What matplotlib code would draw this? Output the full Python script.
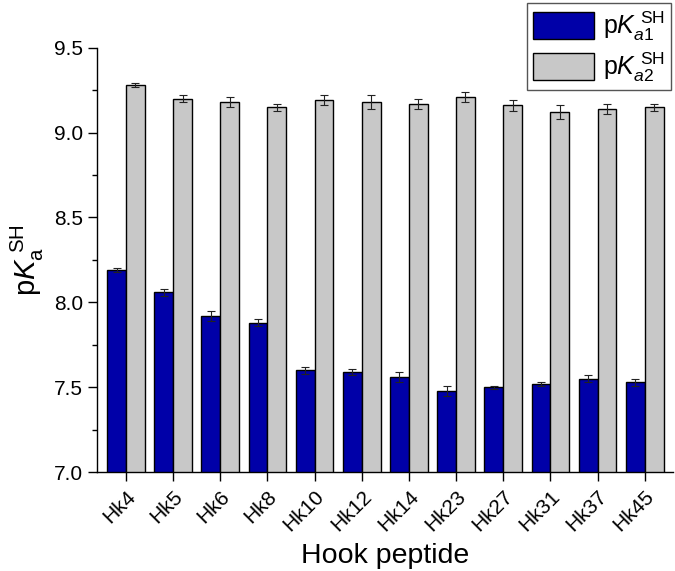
import matplotlib as mpl; mpl.use("Agg")
import matplotlib.pyplot as plt
import numpy as np
from matplotlib.ticker import MultipleLocator

mpl.rcParams.update({"font.family": "Liberation Sans", "mathtext.fontset": "custom",
                     "mathtext.rm": "Liberation Sans", "mathtext.it": "Liberation Sans:italic",
                     "mathtext.bf": "Liberation Sans:bold"})

peptides = ["Hk4", "Hk5", "Hk6", "Hk8", "Hk10", "Hk12", "Hk14", "Hk23", "Hk27", "Hk31", "Hk37", "Hk45"]
pka1 = [8.19, 8.06, 7.92, 7.88, 7.60, 7.59, 7.56, 7.48, 7.50, 7.52, 7.55, 7.53]
pka1_err = [0.01, 0.02, 0.03, 0.02, 0.02, 0.02, 0.03, 0.03, 0.01, 0.01, 0.02, 0.02]
pka2 = [9.28, 9.20, 9.18, 9.15, 9.19, 9.18, 9.17, 9.21, 9.16, 9.12, 9.14, 9.15]
pka2_err = [0.01, 0.02, 0.03, 0.02, 0.03, 0.04, 0.03, 0.03, 0.03, 0.04, 0.03, 0.02]

fig = plt.figure(figsize=(6.75, 5.71), dpi=100)
ax = fig.add_axes([0.144, 0.173, 0.853, 0.7435])

x = np.arange(len(peptides))
w = 0.4
ekw = dict(ecolor="#222222", elinewidth=0.8, capsize=3, capthick=0.8)
ax.bar(x - w / 2, pka1, w, color="#0000A8", edgecolor="black", linewidth=1.0,
       yerr=pka1_err, error_kw=ekw, label=r"p$\mathit{K}_{\mathit{a1}}^{\ \mathrm{SH}}$")
ax.bar(x + w / 2, pka2, w, color="#C8C8C8", edgecolor="black", linewidth=1.0,
       yerr=pka2_err, error_kw=ekw, label=r"p$\mathit{K}_{\mathit{a2}}^{\ \mathrm{SH}}$")

ax.set_xlim(-0.61, 11.6)
ax.set_ylim(7.0, 9.5)
ax.yaxis.set_major_locator(MultipleLocator(0.5))
ax.yaxis.set_minor_locator(MultipleLocator(0.25))
ax.yaxis.set_major_formatter(mpl.ticker.FormatStrFormatter("%.1f"))
ax.set_xticks(x)
ax.set_xticklabels(peptides, rotation=45, ha="right", rotation_mode="anchor")
for s in ("top", "right"):
    ax.spines[s].set_visible(False)
for s in ("left", "bottom"):
    ax.spines[s].set_linewidth(1.0)
ax.tick_params(axis="both", which="major", direction="out", length=6.5, width=1.0, labelsize=15)
ax.tick_params(axis="y", which="minor", direction="out", length=3.5, width=1.0)
ax.tick_params(axis="x", pad=4)

ax.set_xlabel("Hook peptide", fontsize=20.5, labelpad=6)
ax.set_ylabel(r"p$\mathit{K}_{\mathrm{a}}^{\ \mathrm{SH}}$", fontsize=21, labelpad=6)

leg = fig.legend(loc="upper right", bbox_to_anchor=(0.998, 0.999), fontsize=18,
                 handlelength=2.45, handleheight=1.3, fancybox=False, edgecolor="#555555",
                 framealpha=1, borderpad=0.25, labelspacing=0.3, handletextpad=0.35,
                 borderaxespad=0.1)
leg.get_frame().set_linewidth(1.0)

fig.savefig("out.png", dpi=100)
